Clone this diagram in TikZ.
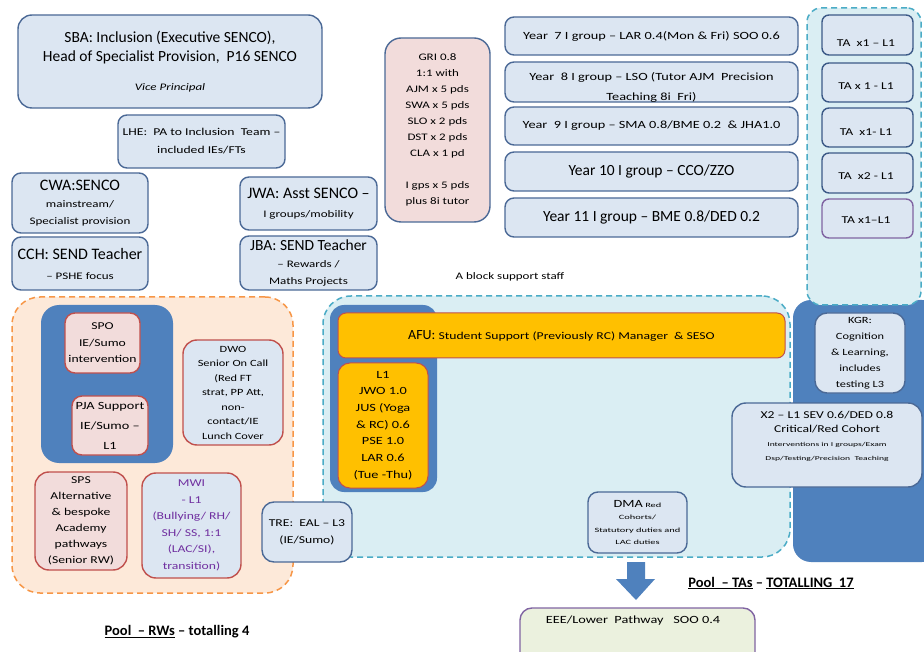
\documentclass[tikz,border=0pt]{standalone}
\usepackage{fontspec}
\setmainfont{Carlito}
\newfontfamily\widefont{Carlito}[FakeStretch=1.3]
\newfontfamily\tinyf{Carlito}[FakeStretch=1.6]
\newcommand{\fsz}[2]{\fontsize{#1}{#2}\selectfont}

\definecolor{boxfill}{RGB}{220,230,242}
\definecolor{boxline}{RGB}{75,105,150}
\definecolor{navyline}{RGB}{60,90,135}
\definecolor{pinkfill}{RGB}{242,220,219}
\definecolor{redline}{RGB}{192,80,77}
\definecolor{darkblue}{RGB}{79,129,189}
\definecolor{tealfill}{RGB}{218,238,243}
\definecolor{tealline}{RGB}{75,172,198}
\definecolor{peach}{RGB}{253,233,217}
\definecolor{orangeline}{RGB}{247,150,70}
\definecolor{amber}{RGB}{255,192,0}
\definecolor{purpleline}{RGB}{128,100,162}
\definecolor{purpletext}{RGB}{112,48,160}
\definecolor{greenfill}{RGB}{235,241,222}

\begin{document}
\begin{tikzpicture}[x=1pt, y=-1pt,
    box/.style={draw=boxline, fill=boxfill, line width=1.4pt, rounded corners=9pt, align=center, inner sep=0pt},
    pinkbox/.style={box, draw=redline, fill=pinkfill},
    redbox/.style={box, draw=redline},
    amberbox/.style={box, draw=redline, fill=amber, line width=1pt},
    tabox/.style={box, draw=navyline, rounded corners=7pt, minimum width=91pt},
    pool/.style={fill=#1, line width=1.5pt, dash pattern=on 6pt off 4pt, rounded corners=28pt, inner sep=0pt},
    block/.style={fill=darkblue, rounded corners=18pt, inner sep=0pt},
    txt/.style={align=center, inner sep=0pt}]
      \useasboundingbox (0,0) rectangle (924,652);
      \clip (0,0) rectangle (924,652);
      \fill[white] (0,0) rectangle (924,652);

      \node (rwpool) [pool=peach, draw=orangeline, at={(152.5,445)}, minimum width=281pt, minimum height=296pt] {};
      \node (tapool) [pool=tealfill, draw=tealline, at={(556.5,426.5)}, minimum width=467pt, minimum height=261pt] {};
      \node (kgrblock) [block, at={(866.5,431)}, minimum width=147pt, minimum height=262pt] {};
      \node (tacol) [pool=tealfill, draw=tealline, rounded corners=14pt, at={(864,156.5)}, minimum width=114pt, minimum height=297pt] {};
      \node (spoblock) [block, at={(107,384)}, minimum width=132pt, minimum height=158pt] {};
      \node (afublock) [block, rounded corners=14pt, at={(383.5,398.5)}, minimum width=107pt, minimum height=187pt] {};

      \node (sba) [box, rounded corners=14pt, at={(170,61.5)}, minimum width=304pt, minimum height=93pt, font=\fsz{15.5}{19}] {SBA: Inclusion (Executive SENCO),\\Head of Specialist Provision,\ \ P16 SENCO\\[10pt]{\widefont\fsz{10}{10}\itshape Vice Principal}};
      \node (lhe) [box, at={(201.5,141.5)}, minimum width=167pt, minimum height=53pt, font=\widefont\fsz{10.5}{18}] {LHE:\ \ PA to Inclusion\ \ Team –\\included IEs/FTs};
      \node (cwa) [box, at={(80,203)}, minimum width=136pt, minimum height=60pt, font=\widefont\fsz{10}{17}] {{\rmfamily\fsz{16}{17}CWA:SENCO}\\mainstream/\\Specialist provision};
      \node (cch) [box, at={(80,263.5)}, minimum width=136pt, minimum height=53pt, font=\widefont\fsz{10}{20}] {{\rmfamily\fsz{16}{20}CCH: SEND Teacher}\\– PSHE focus};
      \node (jwa) [box, at={(308.5,203.5)}, minimum width=137pt, minimum height=53pt, font=\widefont\fsz{10}{19}] {{\rmfamily\fsz{16}{19}JWA: Asst SENCO –}\\I groups/mobility};
      \node (jba) [box, at={(308.5,263)}, minimum width=137pt, minimum height=54pt, font=\widefont\fsz{10}{17}] {{\rmfamily\fsz{15.5}{17}JBA: SEND Teacher}\\– Rewards /\\Maths Projects};
      \node (gri) [box, fill=pinkfill, rounded corners=16pt, at={(437.5,130)}, minimum width=105pt, minimum height=184pt, font=\widefont\fsz{10}{16}] {GRI 0.8\\1:1 with\\AJM x 5 pds\\SWA x 5 pds\\SLO x 2 pds\\DST x 2 pds\\CLA x 1 pd\\[16pt]I gps x 5 pds\\plus 8i tutor};

      \node (yr7) [box, at={(651.5,36)}, minimum width=293pt, minimum height=38pt, font=\widefont\fsz{11}{13}] {Year\ \ 7 I group – LAR 0.4(Mon \& Fri) SOO 0.6};
      \node (yr8) [box, at={(651.5,82)}, minimum width=293pt, minimum height=40pt] {};
      \node (yr8txt) [txt, at={(651.5,87)}, font=\widefont\fsz{11}{20}] {Year\ \ 8 I group – LSO (Tutor AJM\ \ Precision\\Teaching 8i\ \ Fri)};
      \node (yr9) [box, at={(651.5,126)}, minimum width=293pt, minimum height=38pt, font=\widefont\fsz{11}{13}] {Year\ \ 9 I group – SMA 0.8/BME 0.2\ \ \& JHA1.0};
      \node (yr10) [box, at={(651.5,171.5)}, minimum width=293pt, minimum height=39pt, font=\fsz{15.5}{17}] {Year 10 I group – CCO/ZZO};
      \node (yr11) [box, at={(651.5,217.5)}, minimum width=293pt, minimum height=39pt, font=\fsz{15.5}{17}] {Year 11 I group – BME 0.8/DED 0.2};

      \node (ta1) [tabox, at={(867.5,35)}, minimum height=40pt] {};
      \node (ta2) [tabox, at={(867.5,82.5)}, minimum height=39pt] {};
      \node (ta3) [tabox, at={(867.5,127.5)}, minimum height=39pt] {};
      \node (ta4) [tabox, at={(867.5,173)}, minimum height=40pt] {};
      \node (ta5) [tabox, draw=purpleline, at={(867.5,218.5)}, minimum height=39pt] {};
      \node (ta1txt) [txt, at={(866,43)}, font=\widefont\fsz{10.5}{12}] {TA\ \ x1 – L1};
      \node (ta2txt) [txt, at={(866,86)}, font=\widefont\fsz{10.5}{12}] {TA x 1 - L1};
      \node (ta3txt) [txt, at={(866,132)}, font=\widefont\fsz{10.5}{12}] {TA\ \ x1- L1};
      \node (ta4txt) [txt, at={(866,176)}, font=\widefont\fsz{10.5}{12}] {TA\ \ x2 - L1};
      \node (ta5txt) [txt, at={(866,220)}, font=\widefont\fsz{10.5}{12}] {TA x1–L1};

      \node (ablock) [txt, at={(510,277)}, font=\widefont\fsz{10}{12}] {A block support staff};

      \node (afu) [amberbox, rounded corners=8pt, at={(561.5,335.5)}, minimum width=447pt, minimum height=45pt, font=\widefont\fsz{10.5}{12}] {{\rmfamily\fsz{14}{16}AFU:} Student Support (Previously RC) Manager\ \ \& SESO};
      \node (l1) [amberbox, rounded corners=12pt, at={(383,425.5)}, minimum width=90pt, minimum height=125pt, font=\widefont\fsz{11}{16.7}] {L1\\JWO 1.0\\JUS (Yoga\\\& RC) 0.6\\PSE 1.0\\LAR 0.6\\(Tue -Thu)};
      \node (dma) [box, rounded corners=10pt, at={(637.5,522.5)}, minimum width=99pt, minimum height=61pt, font=\tinyf\fsz{6.5}{12.5}] {{\widefont\fsz{11}{12.5}DMA} Red\\Cohorts/\\Statutory duties and\\LAC duties};
      \node (kgr) [box, rounded corners=12pt, at={(860,353)}, minimum width=90pt, minimum height=80pt, font=\widefont\fsz{9.5}{16}] {KGR:\\Cognition\\\& Learning,\\includes\\testing L3};
      \node (x2) [box, rounded corners=14pt, at={(827,445)}, minimum width=190pt, minimum height=84pt] {};
      \node (x2txt) [txt, at={(827,436)}, font=\tinyf\fsz{6}{14}] {{\widefont\fsz{10.5}{14}X2 – L1 SEV 0.6/DED 0.8}\\{\widefont\fsz{10.5}{14}Critical/Red Cohort}\\Interventions in I groups/Exam\\Dsp/Testing/Precision\ \ Teaching};

      \node (spo) [pinkbox, rounded corners=10pt, at={(102.5,343)}, minimum width=75pt, minimum height=60pt, font=\widefont\fsz{10.5}{16.5}] {SPO\\IE/Sumo\\intervention};
      \node (pja) [pinkbox, rounded corners=10pt, at={(110,425.5)}, minimum width=76pt, minimum height=59pt, font=\widefont\fsz{11}{20}] {PJA Support\\IE/Sumo –\\L1};
      \node (dwo) [redbox, rounded corners=14pt, at={(233,392.5)}, minimum width=100pt, minimum height=105pt, font=\widefont\fsz{9.5}{14.5}] {DWO\\Senior On Call\\(Red FT\\strat, PP Att,\\non-\\contact/IE\\Lunch Cover};
      \node (sps) [pinkbox, rounded corners=14pt, at={(81,521)}, minimum width=92pt, minimum height=98pt, font=\widefont\fsz{10.5}{16}] {SPS\\Alternative\\\& bespoke\\Academy\\pathways\\(Senior RW)};
      \node (mwi) [redbox, rounded corners=14pt, text=purpletext, at={(191.5,525.5)}, minimum width=99pt, minimum height=105pt, font=\widefont\fsz{10.5}{16.5}] {MWI\\- L1\\(Bullying/ RH/\\SH/ SS, 1:1\\(LAC/SI),\\transition)};
      \node (tre) [box, rounded corners=12pt, at={(307,532)}, minimum width=90pt, minimum height=60pt, font=\widefont\fsz{10.5}{17}] {TRE:\ \ EAL – L3\\(IE/Sumo)};

      \node (rwlabel) [txt, at={(177,632)}, font=\bfseries\fsz{14.5}{16}] {\underline{Pool\ \ – RWs} – totalling 4};
      \node (talabel) [txt, at={(771,583)}, font=\bfseries\fsz{14.5}{16}] {\underline{Pool\ \ – TAs} – \underline{TOTALLING\ \ 17}};

      \fill[darkblue] (627,562) -- (645,562) -- (645,579) -- (655,579) -- (636,600) -- (616,579) -- (627,579) -- cycle;

      \node (eee) [box, draw=purpleline, fill=greenfill, rounded corners=12pt, at={(637.5,640)}, minimum width=235pt, minimum height=64pt] {};
      \node (eeetxt) [txt, at={(633,621)}, font=\widefont\fsz{11}{12}] {EEE/Lower\ \ Pathway\ \ \ SOO 0.4};
    \end{tikzpicture}
\end{document}
